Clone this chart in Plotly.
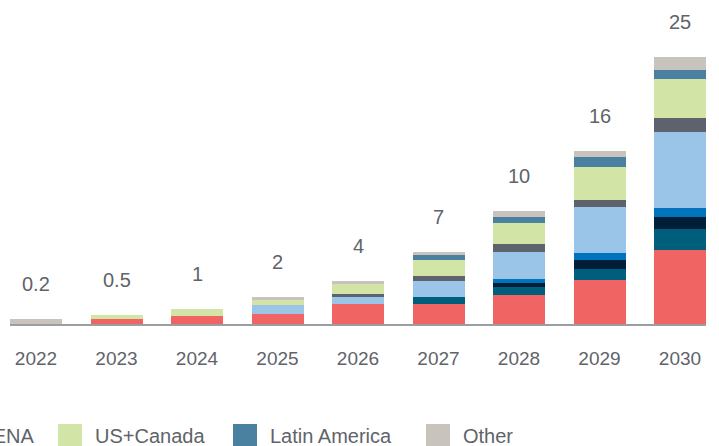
import plotly.graph_objects as go

years = ["2022", "2023", "2024", "2025", "2026", "2027", "2028", "2029", "2030"]
total_labels = ["0.2", "0.5", "1", "2", "4", "7", "10", "16", "25"]

series_names = ["Europe", "India", "Japan+Korea", "Australia", "China", "MENA",
                "US+Canada", "Latin America", "Other"]
europe = [0.0, 0.47, 0.75, 0.93, 1.86, 1.86, 2.70, 4.14, 6.88]
india = [0.0, 0.0, 0.0, 0.0, 0.0, 0.65, 0.74, 1.02, 1.95]
japan_korea = [0.0, 0.0, 0.0, 0.0, 0.0, 0.0, 0.37, 0.84, 1.12]
australia = [0.0, 0.0, 0.0, 0.0, 0.0, 0.0, 0.37, 0.56, 0.84]
china = [0.0, 0.0, 0.0, 0.84, 0.65, 1.49, 2.51, 4.37, 7.07]
mena = [0.0, 0.0, 0.0, 0.0, 0.28, 0.47, 0.74, 0.56, 1.30]
us_canada = [0.0, 0.37, 0.65, 0.47, 0.93, 1.49, 1.95, 3.16, 3.63]
latin_america = [0.0, 0.0, 0.0, 0.0, 0.0, 0.47, 0.56, 0.93, 0.84]
other = [0.45, 0.0, 0.0, 0.28, 0.28, 0.28, 0.56, 0.56, 1.24]

series_values = [europe, india, japan_korea, australia, china, mena,
                 us_canada, latin_america, other]
colors = ["#F06464", "#005E7D", "#001E37", "#0074BC", "#9AC5E9", "#5E626C",
          "#D3E5A6", "#4A80A0", "#C8C4BD"]

TEXT = "#5F636A"
FONT = "Liberation Sans, Arial, Helvetica, sans-serif"

# layout geometry (pixels)
W, H = 719, 446
ML, MR, MT, MB = 10, 13, 20, 122
PW, PH = W - ML - MR, H - MT - MB

def px_x(px):
    return (px - ML) / PW

def px_y(py):
    return (H - MB - py) / PH

fig = go.Figure()
for name, vals, col in zip(series_names, series_values, colors):
    fig.add_trace(go.Bar(x=years, y=vals, name=name, marker_color=col,
                         marker_line_width=0, showlegend=False))

totals = [sum(v[i] for v in series_values) for i in range(len(years))]
annotations = []
for i, (tot, lab) in enumerate(zip(totals, total_labels)):
    annotations.append(dict(x=i, y=tot, xref="x", yref="y", text=lab,
                            showarrow=False, yanchor="middle", yshift=35,
                            font=dict(size=20, color=TEXT, family=FONT)))

# manual legend row (partly off the left edge, as in the reference)
legend_swatch_px = [-700, -580, -455, -300, -170, -61, 58, 233, 426]
shapes = []
for name, col, sx in zip(series_names, colors, legend_swatch_px):
    shapes.append(dict(type="rect", xref="paper", yref="paper",
                       x0=px_x(sx), x1=px_x(sx + 24),
                       y0=px_y(450), y1=px_y(424),
                       fillcolor=col, line=dict(width=0), layer="above"))
    annotations.append(dict(xref="paper", yref="paper", x=px_x(sx + 35),
                            y=px_y(436), text=name, showarrow=False,
                            xanchor="left", yanchor="middle",
                            font=dict(size=20, color=TEXT, family=FONT)))

fig.update_layout(
    width=W, height=H,
    margin=dict(l=ML, r=MR, t=MT, b=MB, autoexpand=False),
    barmode="stack", bargap=0.354,
    plot_bgcolor="white", paper_bgcolor="white",
    font=dict(family=FONT, color=TEXT),
    showlegend=False,
    annotations=annotations, shapes=shapes,
    xaxis=dict(type="category", range=[-0.323, 8.323], showline=True,
               linecolor="#9B9EA2", linewidth=2, ticks="", showgrid=False,
               zeroline=False,
               tickfont=dict(size=19, color=TEXT, family=FONT),
               ticklabelstandoff=16, fixedrange=True),
    yaxis=dict(range=[0, PH / 10.75], visible=False, showgrid=False,
               zeroline=False, fixedrange=True),
)

fig.write_html("out.html")
